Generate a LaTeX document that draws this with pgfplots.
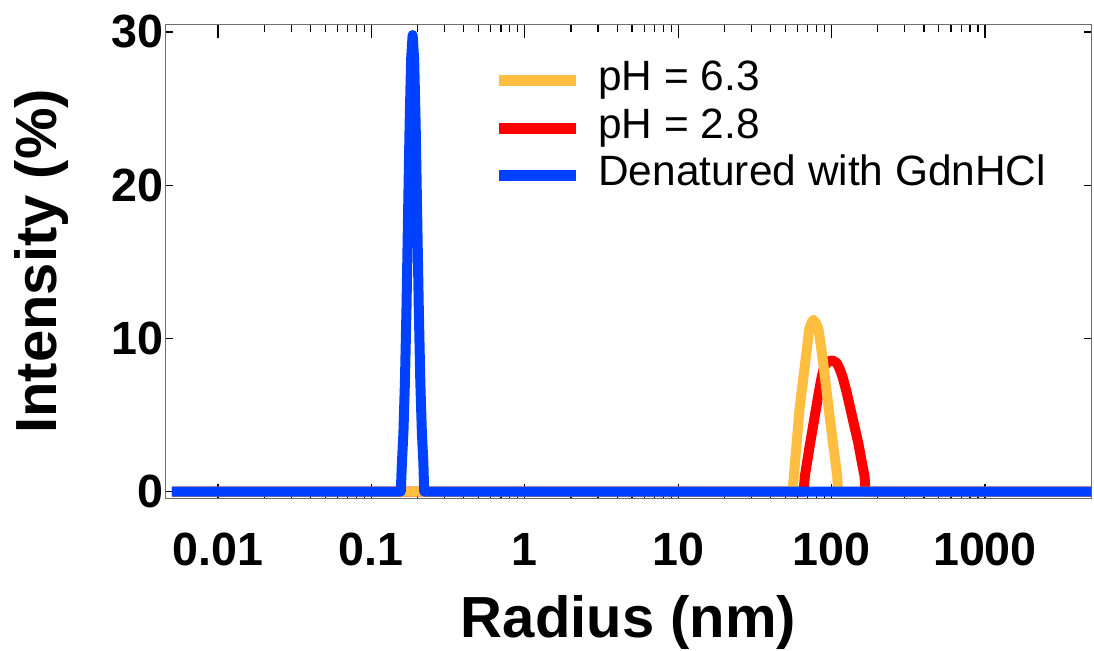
\documentclass[border=0pt]{standalone}
\usepackage{fontspec}
\setmainfont{Liberation Sans}
\usepackage{pgfplots}
\pgfplotsset{compat=1.18}
\definecolor{cyel}{RGB}{255,190,64}
\definecolor{cred}{RGB}{255,0,0}
\definecolor{cblue}{RGB}{0,64,255}
\definecolor{axgray}{RGB}{110,110,110}

\pgfplotstableread{
r I
0.005 0
65.7 0
67.0 1.0
72.6 3.18
79.1 5.36
82.7 6.5
86.5 7.54
89.9 8.2
95.5 8.5
101.5 8.56
107.9 8.4
112.5 8.05
117.5 7.54
125.0 6.55
133.0 5.36
141.0 4.25
149.3 3.18
157.0 2.0
164.1 1.0
166.6 0
4950 0
}\tabred

\pgfplotstableread{
r I
0.005 0
55.7 0
56.8 1.0
61.8 5.36
67.7 8.6
71.5 10.6
73.8 11.0
76.0 11.2
78.5 11.05
82.2 10.6
87.7 8.6
95.9 5.36
108.9 1.0
110.2 0
4950 0
}\tabyel

\pgfplotstableread{
r I
0.005 0
0.1556 0
0.1582 1.85
0.1619 3.9
0.1656 7.2
0.1695 12.0
0.1734 17.9
0.1775 23.8
0.1816 28.2
0.1858 29.8
0.1902 28.2
0.1946 23.8
0.1991 17.9
0.2038 12.0
0.2085 7.2
0.2134 3.9
0.2184 1.85
0.2209 0
4950 0
}\tabblue

\begin{document}
\begin{tikzpicture}
\begin{axis}[name=ax,
  scale only axis, width=463pt, height=237pt,
  xmode=log, xmin=0.00455, xmax=4950, ymin=-0.44, ymax=30.5,
  xtick={0.01,0.1,1,10,100,1000},
  xticklabels={0.01,0.1,1,10,100,1000},
  ytick={0,10,20,30},
  yticklabels={0,10,20,30},
  minor y tick num=0,
  tick align=inside,
  axis line style={axgray, line width=0.7pt},
  major tick length=7pt, minor tick length=3.8pt,
  every tick/.style={black, line width=0.6pt},
  ytick style={/pgfplots/major tick length=4pt},
  ticklabel style={font=\bfseries\fontsize{23.3}{28}\selectfont},
  xticklabel style={anchor=base, yshift=-33.5pt},
  yticklabel style={xshift=2.4pt},
  xlabel={Radius (nm)}, ylabel={Intensity (\%)},
  every axis x label/.style={at={(axis description cs:0.5,-0.2926)}, anchor=base,
    font=\bfseries\fontsize{29}{34}\selectfont},
  every axis y label/.style={at={(axis description cs:-0.1334,0.5)}, rotate=90, anchor=center,
    font=\bfseries\fontsize{29}{34}\selectfont},
  legend image code/.code={\draw[#1, line width=5.5pt, line cap=butt] (0pt,0pt) -- (38.5pt,0pt);},
  legend cell align=left,
  legend style={at={(axis description cs:0.354,0.923)}, anchor=north west,
    draw=none, fill=none, inner sep=0pt, outer sep=0pt,
    font=\fontsize{21.2}{24}\selectfont, row sep=3.75pt,
    nodes={inner sep=0pt, text height=15pt, text depth=5pt},
    /tikz/every odd column/.append style={column sep=8.5pt}},
  every axis plot/.append style={line width=5pt, line join=round, line cap=butt},
]
\addlegendimage{cyel}
\addlegendimage{cred}
\addlegendimage{cblue}
\addplot[cred, forget plot] table[x=r, y=I] {\tabred};
\addplot[cyel, forget plot] table[x=r, y=I] {\tabyel};
\addplot[cblue, forget plot] table[x=r, y=I] {\tabblue};
\legend{pH = 6.3, pH = 2.8, Denatured with GdnHCl}
\end{axis}
\pgfresetboundingbox
\path[use as bounding box] ([shift={(-82.75pt,-75.85pt)}]ax.south west) rectangle ++(547pt,325pt);
\end{tikzpicture}
\end{document}
